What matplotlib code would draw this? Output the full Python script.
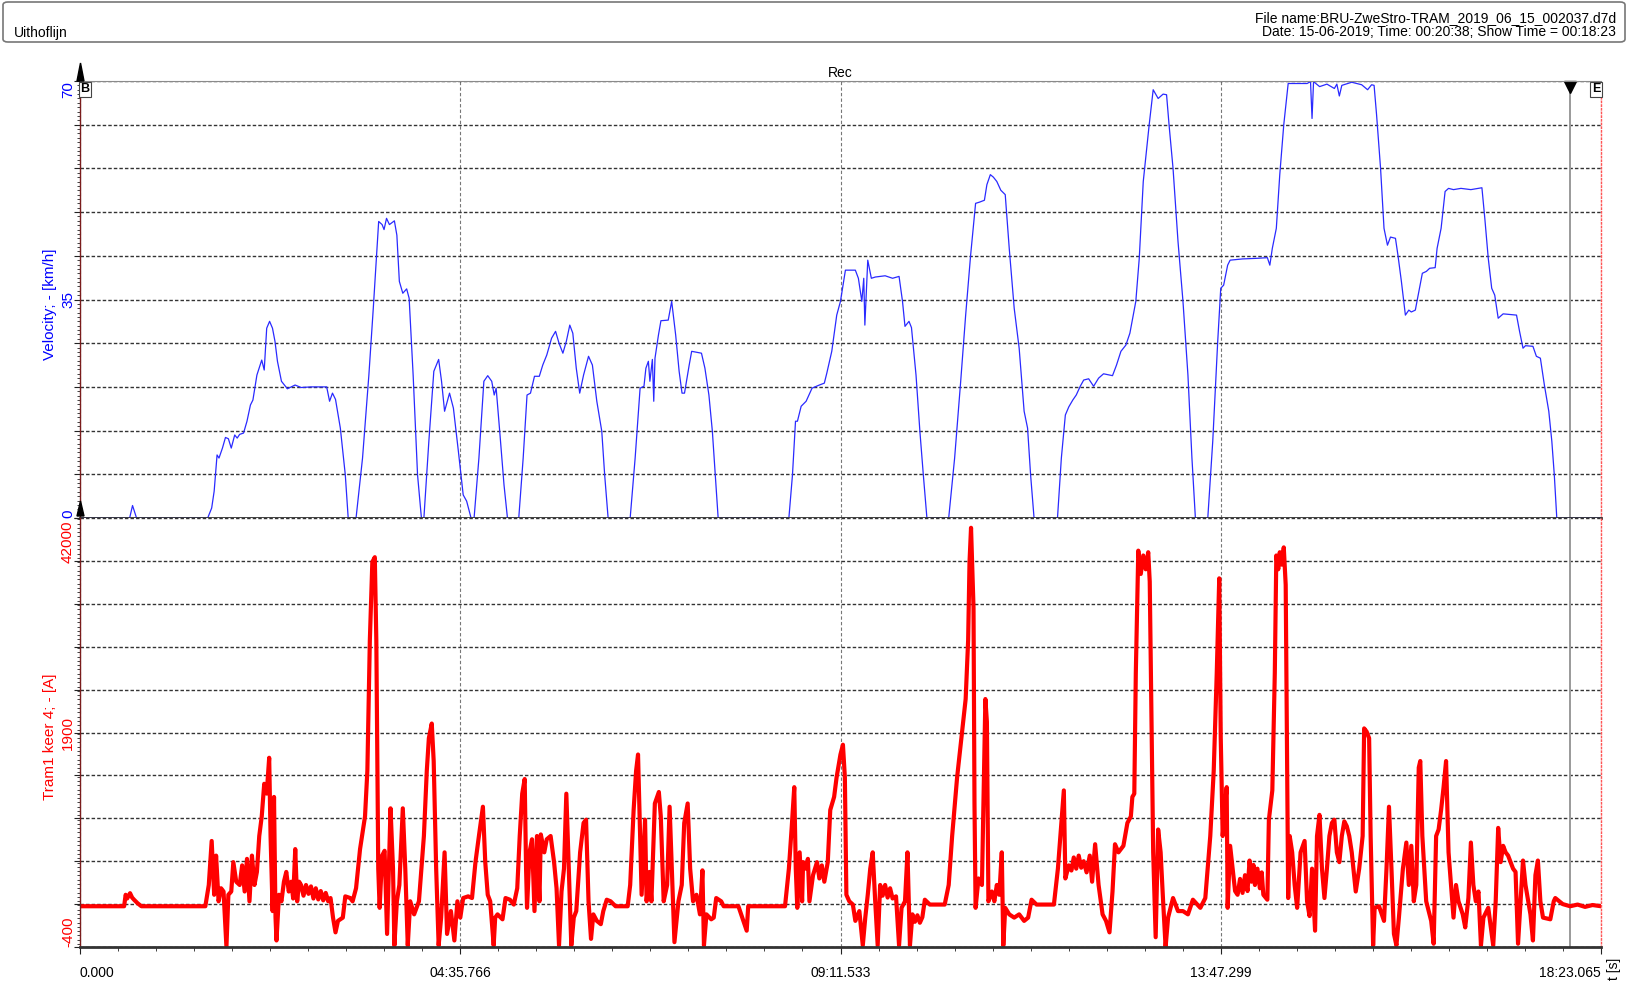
import matplotlib
matplotlib.use("Agg")
import matplotlib.pyplot as plt
from matplotlib.patches import FancyBboxPatch, Polygon
from matplotlib.ticker import MultipleLocator
import numpy as np

plt.rcParams["font.family"] = ["Liberation Sans", "DejaVu Sans"]

# time axis (s) and its tick labels
T_END = 1103.065
T_MARK = 1080.6  # cursor line near the end
X_TICKS = [0.0, 275.766, 551.533, 827.299, 1103.065]
X_TICKLABELS = ["0.000", "04:35.766", "09:11.533", "13:47.299", "18:23.065"]

# velocity [km/h]
VEL_T = [0, 36, 38.1, 41, 92.6, 95.5, 97.3, 99.4, 100.8, 103.3, 105.5, 107.6, 109.7, 112.2,
         114, 115.8, 118.6, 121.1, 123.6, 125.4, 128.3, 131.8, 133.6, 135.4, 137.5, 139.6,
         141.4, 143.2, 146.1, 150.4, 156, 160.3, 167.5, 178.9, 181, 183.1, 185.3, 188.8,
         192.4, 194.5, 200.2, 204.9, 209.5, 212.7, 216.6, 219.1, 220.5, 222.3, 224.4, 228,
         229.8, 231.6, 234.1, 236.9, 238.7, 241.6, 244.8, 247.6, 249.4, 253, 256.6, 260.1,
         262.2, 264.4, 268, 270.8, 274.4, 277.9, 280.4, 283.6, 285.8, 289.3, 292.9, 295.7,
         298.6, 300.4, 301.8, 304.6, 307.5, 310, 318.2, 321.4, 324.2, 326.7, 329.6, 333.1,
         335.6, 338.5, 342, 344.9, 347.4, 350.2, 352.7, 355.2, 357.4, 359.9, 362.4, 365.2,
         368.8, 371.6, 374.8, 378.4, 380.5, 383, 399, 402.6, 406.2, 409, 410.4, 412.2, 413.3,
         415.1, 416.1, 417, 419.5, 421.3, 426.6, 429.1, 432, 434.5, 436.6, 438.4, 441.8,
         443.6, 450.7, 453.2, 456.1, 458.6, 460.7, 462.8, 514.1, 516.7, 518.9, 520.3, 523,
         526.6, 530.9, 536.2, 539.8, 541.6, 545.2, 548.8, 551.5, 555.1, 562.3, 564.5, 567,
         568.4, 569.2, 571.3, 573.9, 576.8, 583.9, 589.3, 594, 596.5, 598.3, 601.2, 603,
         606.3, 609.1, 611.6, 614.2, 630, 634.3, 638.7, 642.3, 645.9, 649.5, 652.4, 655.9,
         657.7, 660.2, 662.4, 664.9, 667.8, 671, 673.9, 677.5, 681.1, 684.7, 687.2, 689.4,
         691.9, 708.9, 711.7, 714.6, 717.1, 720, 722.5, 725.4, 727.9, 731.5, 735.1, 738.7,
         742.3, 748.8, 751.7, 754.9, 758.5, 761.4, 765.7, 768.2, 771.1, 775.4, 778.3, 781.9,
         785.5, 788, 789.8, 792.7, 796.3, 799.9, 803.5, 806.4, 808.9, 817.9, 821.5, 825.1,
         827.3, 829.4, 832.3, 834.1, 843.1, 853.9, 861.1, 862.9, 864.7, 867.6, 870.1, 873,
         876.2, 882.6, 889.9, 892.4, 893.5, 894.6, 899, 904.3, 909.7, 911.5, 913.3, 915.1,
         922.3, 929.5, 933.8, 936.7, 938.5, 940.3, 943.2, 945.7, 948.2, 950.4, 954, 955.8,
         958.3, 961.2, 963.7, 965.5, 968.4, 971, 973.5, 976.4, 978.8, 982.8, 984.2, 987.1,
         990, 992.5, 996.1, 1001.5, 1008.7, 1016.7, 1018.8, 1021.3, 1023.8, 1026, 1028.5,
         1032.1, 1041.8, 1044, 1046.5, 1048.3, 1053.7, 1056.2, 1059.1, 1062, 1065.2, 1067.4,
         1069.2, 1071, 1103.065]
VEL = [0, 0, 2.0, 0, 0, 1.6, 4.3, 10.1, 9.6, 11.2, 12.9, 12.7, 11.2, 13.3,
       12.8, 13.4, 13.6, 15.5, 18.1, 18.9, 22.9, 25.3, 23.7, 30.4, 31.5, 30.4,
       28.3, 25.1, 21.9, 20.7, 21.3, 20.9, 21.0, 21.0, 18.7, 20.0, 19.0, 14.4,
       6.9, 0, 0, 9.6, 22.9, 33.6, 47.5, 47.0, 46.2, 48.0, 47.0, 47.6,
       45.3, 37.9, 36.0, 36.7, 35.2, 22.9, 6.9, 0, 0, 12.3, 23.5, 25.4,
       21.9, 17.1, 20.0, 17.6, 10.7, 3.7, 2.7, 0, 0, 9.6, 21.9, 22.8,
       21.9, 19.7, 20.8, 13.3, 5.3, 0, 0, 9.6, 19.7, 20.0, 22.7, 22.7,
       24.5, 26.1, 28.8, 29.9, 28.0, 26.4, 28.3, 30.9, 29.6, 24.0, 20.0, 22.9,
       25.9, 24.5, 18.7, 13.9, 6.9, 0, 0, 9.6, 20.8, 21.1, 24.0, 25.1, 21.9,
       25.4, 18.7, 25.6, 29.3, 31.6, 31.7, 34.7, 29.3, 23.5, 20.0, 20.0, 24.5,
       26.7, 26.4, 24.0, 19.7, 13.9, 6.9, 0, 0, 6.9, 15.5, 15.5, 17.9,
       18.7, 20.8, 21.3, 21.6, 23.2, 26.7, 32.5, 34.7, 39.7, 39.7, 38.4, 34.7,
       38.4, 30.9, 41.3, 38.4, 38.6, 38.8, 38.4, 38.7, 34.7, 30.7, 31.5, 30.5,
       22.9, 13.9, 6.9, 0, 0, 9.6, 21.9, 32.5, 42.1, 50.4, 50.6, 50.9,
       53.4, 55.0, 54.6, 53.9, 52.5, 51.8, 43.2, 33.6, 27.2, 17.1, 14.4, 6.9,
       0, 0, 9.6, 16.5, 17.8, 18.9, 19.7, 21.1, 22.1, 22.3, 21.1, 22.4,
       23.1, 22.8, 24.5, 26.7, 27.7, 29.6, 34.7, 41.6, 53.9, 63.0, 68.6, 67.2,
       67.9, 67.8, 63.0, 56.0, 44.3, 34.7, 22.9, 9.6, 0, 0, 12.3, 28.3,
       36.8, 37.3, 40.5, 41.3, 41.5, 41.6, 41.7, 40.5, 43.2, 46.4, 55.0, 63.0,
       69.6, 69.6, 69.6, 69.9, 64.0, 69.9, 69.1, 69.5, 68.8, 69.5, 67.6, 69.3,
       69.8, 69.4, 68.6, 69.4, 69.3, 64.6, 56.0, 46.4, 43.7, 45.0, 44.8, 42.1,
       37.9, 32.5, 33.3, 33.0, 33.3, 36.3, 39.2, 39.5, 40.0, 40.1, 43.2, 46.4,
       52.3, 52.8, 52.6, 52.8, 52.6, 52.9, 48.0, 41.6, 36.8, 35.7, 32.0,
       32.7, 32.5, 29.9, 27.2, 27.6, 27.5, 25.9, 25.6, 21.3, 17.1, 12.3,
       6.9, 0, 0]

# traction current "Tram1 keer 4" [A]
CUR_T = [0, 32, 33.1, 34.2, 36.3, 37.8, 39.2, 41.7, 44.5, 90.9, 93.4, 95.5, 97.3, 98.7,
         100.5, 102.3, 104.1, 106.2, 107.6, 109.7, 111.2, 113.3, 115.8, 117.6, 119.4, 121.1,
         122.9, 124.7, 126.5, 128.3, 130, 131.8, 133.6, 135.4, 137.2, 138.2, 139.7, 140.7,
         141.8, 142.5, 144.3, 146.1, 147.9, 149.6, 151.4, 153.2, 154.6, 156.1, 157.5, 158.9,
         160.3, 162.1, 163.9, 165.7, 167.5, 169.3, 171, 172.8, 174.6, 176.4, 178.2, 180,
         181.7, 183.5, 185.3, 187.1, 190.6, 192.4, 196, 197.7, 200.2, 203.1, 206.7,
         208.4, 210.2, 212, 213.8, 214.9, 216.3, 217.3, 219.1, 220.9, 222.7, 225.2, 227,
         228, 229.8, 231.6, 234.1, 235.9, 237.7, 239.5, 242.3, 245.8, 249.4, 251.5, 253,
         255.1, 256.5, 258.3, 260.1, 261.9, 264.4, 266.2, 269, 271.5, 273.7, 275.8, 277.9,
         281.5, 284.3, 286.8, 289.3, 292.2, 293.9, 295.7, 297.5, 300, 301.1, 302.8, 306.4,
         308.6, 311.8, 314.6, 317.1, 318.9, 320.7, 322.5, 323.5, 324.2, 326, 327.8, 329.6,
         331.4, 333.2, 334.2, 336.7, 338.5, 341.3, 343.8, 345.6, 347.4, 349.2, 351, 352.7,
         354.5, 356.3, 358.1, 359.9, 362.7, 365.2, 367, 368.8, 370.6, 372.3, 374.8, 377.7,
         379.5, 382, 384.8, 388.4, 397.2, 399, 401.5, 403.3, 404.7, 406.2, 407.3, 409.8,
         410.9, 413, 414.4, 416.9, 419.8, 421.2, 423.3, 425.8, 427.6, 429.4, 431.1, 434,
         436.4, 438.2, 440.7, 442.5, 444.6, 447.1, 449.6, 451.4, 452.5, 454.3, 457.8, 459.6,
         461.4, 465, 466.8, 477.5, 483.5, 484.6, 511.3, 514.1, 516.2, 518, 519.1, 520.2,
         521.9, 523.7, 524.4, 526.2, 527.9, 529, 531.6, 534.5, 536.2, 538, 539.8, 542.3,
         544.1, 546.9, 548.7, 551.5, 553.3, 554.7, 555.8, 557.9, 560.5, 562.3, 565.2, 567.7,
         569.5, 571.3, 573.1, 574.9, 576.7, 578.5, 580.3, 582.1, 583.9, 585.7, 587.5, 589.3,
         591.8, 594, 595.8, 598.3, 600.1, 601.9, 603.7, 605.5, 607.3, 609.1, 610.9, 612.7,
         616.3, 627.1, 630, 632.5,
         636.1, 639.7, 642.3, 644.1, 645.1, 646.2, 648, 648.7, 649.5, 651.6, 654.1, 655.2,
         656.6, 657.7, 658.8, 661.3, 663.1, 664.9, 666.7, 668.5, 669.6, 671, 673.9, 677.5,
         681.1, 684.7, 687.6, 690.1, 693.7, 706.3, 709.2, 711.7, 713.5, 714.6, 717.1, 719,
         720.7, 722.5, 724.3, 726.1, 727.9, 730, 732.3, 734, 736.2, 738.7, 741.6, 744.1,
         746.6, 748.8, 750.6, 753.1, 756.7, 759.6, 762.1, 763.2, 764.6, 765.7, 767.5, 769.3,
         771.1, 772.9, 774.7, 775.8, 777.2, 778.3, 780.1, 781.9, 783.7, 785.5, 787.3, 789.1,
         792.7, 796.3, 799.9, 803.5, 807.1, 812.5, 816.1, 819.7, 822.2, 824.4, 826.2, 827.3,
         828.7, 830.5, 831.6, 832.3, 834.1, 835.9, 837.7, 839.5, 841.3, 843.1, 844.9, 846.7,
         848.2, 849.6, 851, 852.1, 853.9, 855.7, 857, 858.2, 861.1, 862.2, 864.7, 866.5,
         867.6, 869, 870.1, 871.5, 873, 874.4, 875.5, 876.2, 877.3, 879.1, 880.9, 882.7,
         885.2, 888.1, 889.9, 891.7, 893.5, 895.7, 897.1, 898.9, 900.7, 902.5, 904.3, 906.1,
         907.9, 909.7, 911.5, 913.3, 915.1, 916.9, 918.7, 920.5, 922.3, 925.2, 927.7, 930.2,
         931.3, 933.1, 934.9, 936, 937.8, 938.9, 942.1, 945.7, 947.5, 949.3, 951.1, 952.9,
         954.7, 956.5, 959.4, 961.9, 963.7, 965.5, 967.3, 969.1, 970.9, 972, 973.5, 976.3,
         979.9, 981.7, 983.5, 985.3, 987.1, 988.9, 990.7, 992.5, 994.3, 996.1, 997.9, 999.7,
         1002.8, 1004.6, 1006.9, 1008.7, 1010.5, 1012.3, 1014.2, 1016, 1017.8, 1021.3,
         1024.9, 1026.7, 1028.5, 1030.3, 1032.1, 1033.9, 1035.7, 1037.5, 1039.3, 1041.1,
         1042.9, 1044.7, 1046.5, 1048.3, 1051.9, 1053.7, 1055.5, 1057.3, 1059.1, 1061,
         1066.3, 1068.8, 1069.9, 1075.3, 1080.7, 1086.1, 1091.5, 1096.9, 1103.065]
CUR = [37, 37, 160, 120, 177, 130, 107, 70, 37, 37, 265, 737, 160, 580,
       90, 230, 195, -400, 160, 195, 510, 300, 265, 475, 195, 545,
       90, 580, 265, 405, 790, 1000, 1350, 1245, 1629, 790, -15, 1209,
       -85, -330, 160, 90, 300, 405, 195, 300, 120, 650, 90, 300,
       265, 150, 265, 170, 250, 120, 230, 110, 200, 100, 180, 90,
       125, -85, -243, -120, -85, 143, 125, 90, 230, 650, 1000,
       1489, 2888, 3728, 3780, 2888, 440, 20, 580, 632, -260, 1087, 440,
       -383, 90, 265, 1087, 440, -383, 90, -50, 90, 790, 1489, 1839,
       1996, 1594, 440, -383, -85, 615, -260, -15, -330, 90, -85, 125,
       143, 125, 510, 790, 1104, 510, 160, 90, -383, -85, -50, -103,
       125, 107, 55, 230, 790, 1244, 1401, 440, 20, 615, 755, -15,
       790, 90, 807, 615, 755, 790, 510, 230, -383, 195, 440, 1244,
       440, -383, -85, -15, 615, 930, 965, 90, -313, -50, -120, -155,
       -15, 107, 90, 37, 37, 265, 1069, 1489, 1664, 790, 160, 965,
       90, 405, 90, 1139, 1262, 1000, 90, 265, 1104, 370, -348, 90,
       265, 930, 1139, 440, 90, 160, -50, 422, -383, -50, -103, -85,
       125, 90, 37, 37, -225, 37, 37, 440, 895, 1314, 440, 20,
       615, 90, 510, 440, 545, 90, 370, 510, 335, 475, 300, 510,
       1069, 1209, 1419, 1664, 1769, 1419, 160, 90, 55, -120, -15, -383,
       -85, 160, 440, 615, 90, -383, 265, 150, 265, 130, 230, 120,
       143, -383, 20, 90, 615, -383, -50, -130, -60, -140, -80, 107,
       55, 55, 265, 790,
       1419, 1909, 2259, 2888, 3728, 4095, 3238, 1139, 20, 335, 265, 1139,
       2259, 2014, 90, 195, 90, 265, 160, 615, -383, 20, -50, -85,
       -50, -120, -85, 107, 55, 55, 440, 930, 1279, 335, 475, 420,
       560, 440, 580, 450, 520, 400, 580, 300, 702, 265, -50, -120,
       -243, 195, 702, 615, 685, 930, 1000, 1209, 1244, 2538, 3850, 3600,
       3798, 3650, 3833, 3518, 1839, 615, -295, 860, 615, 90, -400, -85,
       125, -15, -15, -50, 107, 20, 125, 790, 1489, 2538, 3553, 1839,
       790, 1139, 1314, 20, 685, 440, 200, 160, 330, 180, 370, 200,
       527, 300, 480, 265, 440, 230, 400, 160, 107, 965, 1279, 2538,
       3798, 3650, 3833, 3700, 3885, 3483, 1489, 125, 790, 615, 265, 20,
       615, 737, 90, -68, 440, -225, 790, 1017, 440, 125, 440, 790,
       930, 965, 615, 510, 790, 947, 895, 790, 615, 195, 440, 790,
       1944, 1909, 1839, 790, -383, 20, 37, -120, 440, 1104, 440, -260,
       -383, -85, 440, 720, 265, 685, 90, 265, 1524, 1594, 790, 90,
       -120, -365, 790, 860, 1069, 1314, 1594, 615, 265, -85, 265, 90,
       -50, -190, 125, 720, 265, 90, 195, -383, -85, 20,
       -383, 90, 877, 510, 685, 615, 580, 510, 440, 405,
       -365, 90, 527, 265, -50, -330, 370, 527, 90, -85,
       -103, 90, 125, 60, 37, 55, 30, 50, 37]

VEL_COLOR = "#2a2aff"
CUR_COLOR = "#ff0000"
SPINE_LEFT = "#7a1c1c"
W, H = 1628, 982


def fx(px):
    return px / W


def fy(py):
    return 1 - py / H


def style_axes(ax, lo, hi):
    ax.set_xlim(0, T_END)
    ax.set_ylim(lo, hi)
    ax.set_axisbelow(True)
    ax.set_xticks(X_TICKS)
    ax.xaxis.set_minor_locator(MultipleLocator(T_END / 40))
    ax.set_yticks(np.linspace(lo, hi, 11))
    ax.yaxis.set_minor_locator(MultipleLocator((hi - lo) / 100))
    ax.xaxis.grid(True, ls=(0, (3, 2)), color="#777777", lw=0.8)
    ax.yaxis.grid(True, ls=(0, (2.5, 1.5)), color="#333333", lw=1.0)
    ax.tick_params(axis="y", which="major", direction="out", length=4.5,
                   width=0.8, color="#222222", labelleft=False)
    ax.tick_params(axis="y", which="minor", direction="out", length=2.2,
                   width=0.6, color="#222222")
    ax.spines["left"].set_color(SPINE_LEFT)
    ax.spines["left"].set_linewidth(1.0)
    ax.spines["right"].set_color("#ff5555")
    ax.spines["right"].set_linestyle(":")
    ax.spines["right"].set_linewidth(1.0)
    ax.axvline(T_MARK, color="#9a9a9a", lw=1.4, zorder=1.5)


def main():
    fig = plt.figure(figsize=(W / 100, H / 100), dpi=100)

    # header box
    box = FancyBboxPatch((fx(3), fy(42)), fx(1625) - fx(3), fy(2) - fy(42),
                         boxstyle="round,pad=0,rounding_size=0.003",
                         transform=fig.transFigure, fc="white", ec="#777777", lw=1.2)
    fig.patches.append(box)
    fig.text(fx(14), fy(37), "Uithoflijn", ha="left", va="baseline", fontsize=10)
    fig.text(fx(1616), fy(22.5), "File name:BRU-ZweStro-TRAM_2019_06_15_002037.d7d",
             ha="right", va="baseline", fontsize=10)
    fig.text(fx(1616), fy(35.5), "Date: 15-06-2019; Time: 00:20:38; Show Time = 00:18:23",
             ha="right", va="baseline", fontsize=10)

    ax1 = fig.add_axes([fx(80), fy(518), fx(1601) - fx(80), fy(81) - fy(518)])
    ax2 = fig.add_axes([fx(80), fy(947), fx(1601) - fx(80), fy(518) - fy(947)])

    # ── top: velocity ──
    style_axes(ax1, 0, 70)
    ax1.tick_params(axis="x", which="both", length=0, labelbottom=False)
    ax1.spines["top"].set_color("#8a8a8a")
    ax1.spines["bottom"].set_color("#333333")
    ax1.spines["bottom"].set_linewidth(2.0)
    ax1.plot(VEL_T, VEL, color=VEL_COLOR, lw=0.9)
    ax1.set_title("Rec", fontsize=10, pad=3)
    ax1.plot([T_MARK], [0.986], marker="v", ms=9, color="black",
             transform=ax1.get_xaxis_transform(), clip_on=False)

    # ── bottom: current ──
    style_axes(ax2, -400, 4200)
    ax2.spines["top"].set_visible(False)
    ax2.spines["bottom"].set_color("#333333")
    ax2.spines["bottom"].set_linewidth(2.0)
    ax2.plot(CUR_T, CUR, color=CUR_COLOR, lw=3.0)
    ax2.set_xticklabels(X_TICKLABELS)
    ax2.tick_params(axis="x", which="major", direction="out", length=5, width=0.8,
                    color="#222222", labelsize=10, pad=8.5)
    ax2.tick_params(axis="x", which="minor", direction="out", length=3, width=0.6,
                    color="#222222")
    for lbl, ha in zip(ax2.get_xticklabels(), ["left", "center", "center", "center", "right"]):
        lbl.set_ha(ha)

    # y labels (rotated, coloured like the traces)
    ax1.text(-0.0079, 1.0, "70", transform=ax1.transAxes, rotation=90,
             ha="center", va="top", color="blue", fontsize=11)
    ax1.text(-0.0079, 0.5, "35", transform=ax1.transAxes, rotation=90,
             ha="center", va="center", color="blue", fontsize=11)
    ax1.text(-0.0079, 0.0, "0", transform=ax1.transAxes, rotation=90,
             ha="center", va="bottom", color="blue", fontsize=11)
    ax1.text(-0.0195, 0.49, "Velocity; - [km/h]", transform=ax1.transAxes, rotation=90,
             ha="center", va="center", color="blue", fontsize=11)
    ax2.text(-0.0079, 0.995, "42000", transform=ax2.transAxes, rotation=90,
             ha="center", va="top", color="red", fontsize=11)
    ax2.text(-0.0079, 0.5, "1900", transform=ax2.transAxes, rotation=90,
             ha="center", va="center", color="red", fontsize=11)
    ax2.text(-0.0079, 0.0, "-400", transform=ax2.transAxes, rotation=90,
             ha="center", va="bottom", color="red", fontsize=11)
    ax2.text(-0.0195, 0.49, "Tram1 keer 4; - [A]", transform=ax2.transAxes, rotation=90,
             ha="center", va="center", color="red", fontsize=11)
    fig.text(fx(1614), fy(969), "t [s]", rotation=90, ha="center", va="center", fontsize=10)

    # begin / end markers and axis arrows
    for x, s in ((85, "B"), (1596, "E")):
        fig.text(fx(x), fy(89.5), s, ha="center", va="center", fontsize=9,
                 fontweight="bold",
                 bbox=dict(boxstyle="square,pad=0.12", fc="white", ec="#444444", lw=0.8))
    for tip, base in ((63, 81), (501, 516)):
        fig.patches.append(Polygon([(fx(80.5), fy(tip)), (fx(77), fy(base)), (fx(84), fy(base))],
                                   closed=True, fc="black", ec="black",
                                   transform=fig.transFigure))

    fig.savefig("out.png", dpi=100)


if __name__ == "__main__":
    main()
